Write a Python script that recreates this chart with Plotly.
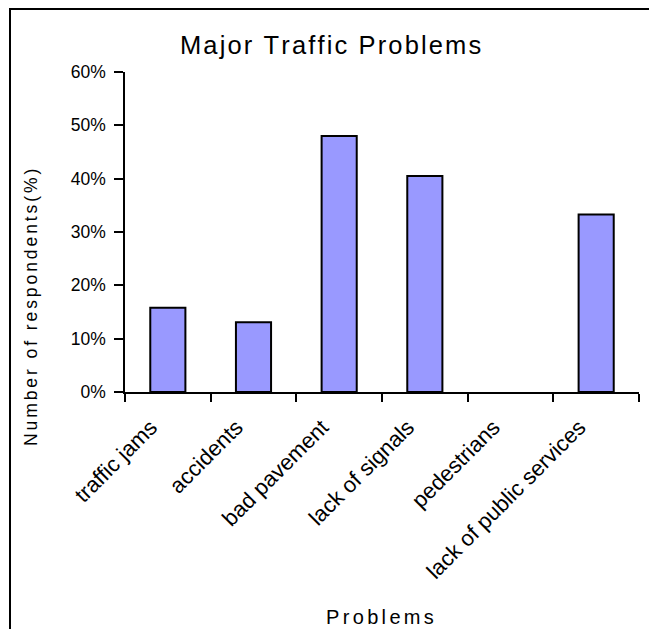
import plotly.graph_objects as go

categories = ["traffic jams", "accidents", "bad pavement", "lack of signals",
              "pedestrians", "lack of public services"]
shares = [0.158, 0.131, 0.48, 0.405, 0.0, 0.333]
y_tick_values = [0, 0.1, 0.2, 0.3, 0.4, 0.5, 0.6]

W, H = 649, 629
L, R, T, B = 125, 10, 72, 237
PW, PH = W - L - R, H - T - B
FONT = "Liberation Sans, Arial, sans-serif"


def spaced(text, n=1):
    return ("\u200a" * n).join(text)


def px(x):
    return (x - L) / PW


def py(y):
    return (H - B - y) / PH


# empty categories get no outline
outline_widths = [2 if v > 0 else 0 for v in shares]

fig = go.Figure(
    go.Bar(
        x=categories,
        y=shares,
        marker=dict(color="#9999FF",
                    line=dict(color="black", width=outline_widths)),
    )
)

fig.update_layout(
    width=W,
    height=H,
    margin=dict(l=L, r=R, t=T, b=B, pad=0),
    paper_bgcolor="white",
    plot_bgcolor="white",
    bargap=0.59,
    showlegend=False,
    font=dict(family=FONT, size=16, color="black"),
)

fig.update_xaxes(
    type="category",
    automargin=False,
    showline=True,
    linecolor="black",
    linewidth=1.5,
    ticks="outside",
    tickson="boundaries",
    ticklen=8,
    tickwidth=1.5,
    tickcolor="black",
    tickangle=-45,
    ticklabelstandoff=12,
    ticklabelshift=-17,
    tickfont=dict(family=FONT, size=22, color="black"),
    showgrid=False,
    zeroline=False,
)

fig.update_yaxes(
    range=[0, 0.6],
    automargin=False,
    tickvals=y_tick_values,
    tickformat=".0%",
    showline=True,
    linecolor="black",
    linewidth=1.5,
    ticks="outside",
    ticklen=9,
    tickwidth=1.5,
    tickcolor="black",
    ticklabelstandoff=5,
    tickfont=dict(family=FONT, size=17.5, color="black"),
    showgrid=False,
    zeroline=False,
)

annotations = [
    dict(text=spaced("Major Traffic Problems"), x=px(330), y=py(45),
         font=dict(size=25.5)),
    dict(text=spaced("Number of respondents(%)", 2), x=px(31), y=py(308),
         textangle=-90, font=dict(size=17.5)),
    dict(text=spaced("Problems", 2), x=px(380), y=py(617), font=dict(size=20)),
]
for a in annotations:
    a.update(xref="paper", yref="paper", showarrow=False,
             xanchor="center", yanchor="middle")
fig.update_layout(annotations=annotations)

# chart frame (its right and bottom edges run past the page)
fig.add_shape(type="rect", xref="paper", yref="paper",
              x0=px(10), y0=py(660), x1=px(680), y1=py(9),
              line=dict(color="black", width=2), fillcolor="rgba(0,0,0,0)",
              layer="above")

fig.write_html("out.html")
